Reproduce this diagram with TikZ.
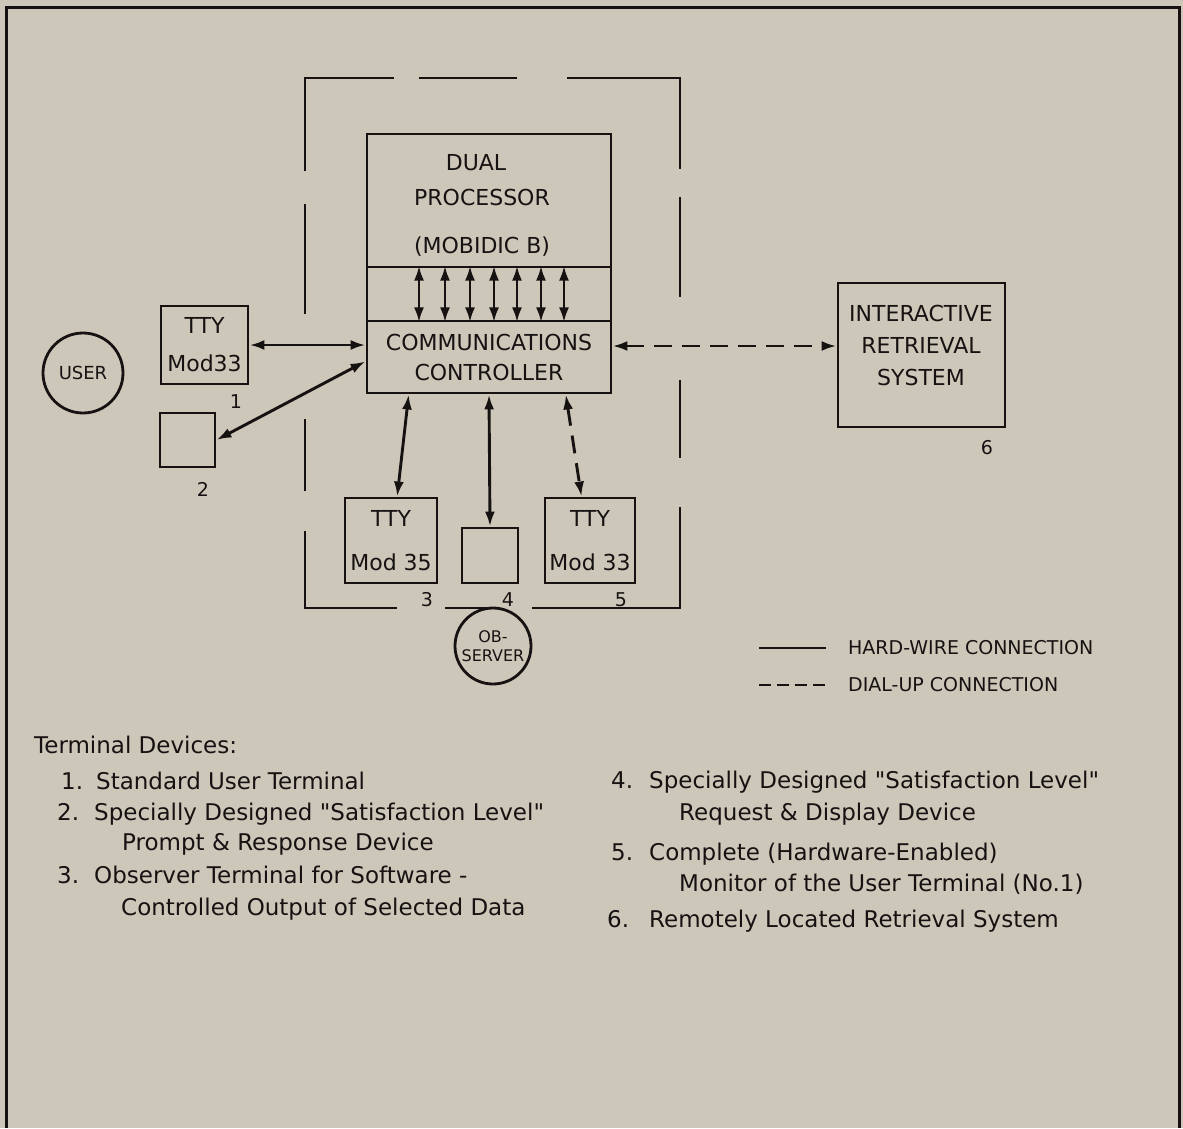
\documentclass[tikz,border=0pt]{standalone}
\usepackage{fontspec}
\setmainfont{DejaVu Sans}
\usetikzlibrary{arrows.meta, calc}
\definecolor{paper}{RGB}{205,199,186}
\definecolor{ink}{RGB}{22,18,18}

\begin{document}
\begin{tikzpicture}[x=1pt, y=-1pt,
    >={Latex[length=15pt,width=10pt]},
    every node/.style={text=ink},
    box/.style={draw=ink, line width=2.9pt, inner sep=0pt},
    link/.style={<->, draw=ink, line width=2.9pt},
    dial/.style={link, dash pattern=on 18pt off 10pt},
    wall/.style={draw=ink, line width=2.9pt, line cap=rect},
    big/.style={font=\fontsize{22}{30}\selectfont, align=center},
    tag/.style={font=\fontsize{19}{22}\selectfont, inner sep=0pt},
    item/.style={font=\fontsize{23}{30}\selectfont, anchor=base west, inner sep=0pt}
  ]
  % paper and frame
  \fill[paper] (0,0) rectangle (1183,1128);
  \useasboundingbox (0,0) rectangle (1183,1128);
  \draw[ink, line width=3pt] (6,1128) -- (6,7) -- (1179,7) -- (1179,1128);

  % dashed housing round the processor site
  \foreach \a/\b in {78/170, 205/313, 420/490, 532/608}
    \draw[wall] (305,\a) -- (305,\b);
  \foreach \a/\b in {78/168, 198/296, 381/457, 508/608}
    \draw[wall] (680,\a) -- (680,\b);
  \foreach \a/\b in {305/393, 420/516, 568/680}
    \draw[wall] (\a,78) -- (\b,78);
  \foreach \a/\b in {305/396, 446/497, 533/680}
    \draw[wall] (\a,608) -- (\b,608);

  % dual processor over the communications controller
  \node[box, minimum width=244pt, minimum height=133pt] (proc) at (489,200.5) {};
  \node[big] (dual) at (476,163) {DUAL};
  \node[big] (procname) at (482,197) {PROCESSOR};
  \node[big] (mobidic) at (482,247) {(MOBIDIC B)};
  \node[box, minimum width=244pt, minimum height=54pt] (bus) at (489,294) {};
  \node[box, big, minimum width=244pt, minimum height=72pt] (comm) at (489,357)
    {COMMUNICATIONS\\CONTROLLER};
  \foreach \x in {419,445,470,494,517,541,564}
    \draw[link] (\x,0 |- bus.north) -- (\x,0 |- bus.south);

  % user side
  \node[draw=ink, line width=2.8pt, circle, minimum size=80pt, inner sep=0pt,
    font=\fontsize{18}{20}\selectfont] (user) at (83,373) {USER};
  \node[box, minimum width=87pt, minimum height=78pt,
    font=\fontsize{22}{38}\selectfont, align=center] (tty1) at (204.5,345) {TTY\\Mod33};
  \node[tag] (n1) at (236,402) {1};
  \node[box, minimum width=55pt, minimum height=54pt] (pr2) at (187.5,440) {};
  \node[tag] (n2) at (203,489) {2};

  % observer side
  \node[box, minimum width=92pt, minimum height=85pt,
    font=\fontsize{22}{44}\selectfont, align=center] (tty3) at (391,540.5) {TTY\\Mod 35};
  \node[box, minimum width=56pt, minimum height=55pt] (pr4) at (490,555.5) {};
  \node[box, minimum width=90pt, minimum height=85pt,
    font=\fontsize{22}{44}\selectfont, align=center] (tty5) at (590,540.5) {TTY\\Mod 33};
  \node[tag] (n3) at (427,600) {3};
  \node[tag] (n4) at (508,600) {4};
  \node[tag] (n5) at (621,600) {5};
  \node[draw=ink, line width=2.8pt, circle, minimum size=76pt, inner sep=0pt,
    font=\fontsize{16}{19}\selectfont, align=center] (obs) at (493,646) {OB-\\SERVER};

  % remote system
  \node[box, minimum width=167pt, minimum height=144pt] (irs) at (921.5,355) {};
  \node[font=\fontsize{22}{32}\selectfont, align=center] (irsname) at (921,345)
    {INTERACTIVE\\RETRIEVAL\\SYSTEM};
  \node[tag] (n6) at (987,448) {6};

  % connections
  \draw[link] (tty1.east) -- (tty1.east -| comm.west);
  \draw[link] (pr2.east) -- (comm.182);
  \draw[link] (comm.205) -- (tty3.82);
  \draw[link] (comm.south) -- (pr4.north);
  \draw[dial] (comm.334) -- (tty5.101);
  \draw[dial] ($(comm.east)+(0,-11)$) -- ($(irs.west)+(0,-9)$);

  % legend
  \node[tag, anchor=west] (hard) at (848,648) {HARD-WIRE CONNECTION};
  \node[tag, anchor=west] (dialup) at (848,685) {DIAL-UP CONNECTION};
  \draw[wall, line cap=butt] ($(hard.west)+(-89,0)$) -- ++(67,0);
  \draw[wall, line cap=butt, dash pattern=on 12pt off 6pt] ($(dialup.west)+(-89,0)$) -- ++(67,0);

  % list of terminal devices
  \node[item] (head) at (34,753.5) {Terminal Devices:};
  \node[item] (d1) at (61,789.5) {\makebox[35pt][l]{1.}Standard User Terminal};
  \node[item] (d2) at (57,820.5) {\makebox[37pt][l]{2.}Specially Designed \textquotedbl Satisfaction Level\textquotedbl};
  \node[item] (d2b) at (122,850.5) {Prompt \& Response Device};
  \node[item] (d3) at (57,883.5) {\makebox[37pt][l]{3.}Observer Terminal for Software -};
  \node[item] (d3b) at (121,915.5) {Controlled Output of Selected Data};
  \node[item] (d4) at (611,788.5) {\makebox[38pt][l]{4.}Specially Designed \textquotedbl Satisfaction Level\textquotedbl};
  \node[item] (d4b) at (679,820.5) {Request \& Display Device};
  \node[item] (d5) at (611,860.5) {\makebox[38pt][l]{5.}Complete (Hardware-Enabled)};
  \node[item] (d5b) at (679,891.5) {Monitor of the User Terminal (No.1)};
  \node[item] (d6) at (607,927.5) {\makebox[42pt][l]{6.}Remotely Located Retrieval System};
\end{tikzpicture}
\end{document}
